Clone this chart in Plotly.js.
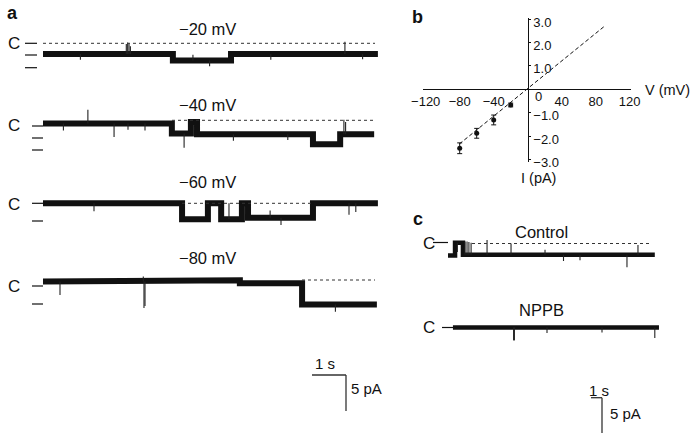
<!DOCTYPE html>
<html><head><meta charset="utf-8">
<script src="https://cdn.plot.ly/plotly-3.0.1.min.js"></script>
<style>html,body{margin:0;padding:0;background:#fff}#chart{width:695px;height:439px}</style>
</head><body><div id="chart"></div>
<script>
// ---------- Panel a: single-channel traces (time s, current pA rel. to closed level) ----------
const voltagesA = ["−20 mV", "−40 mV", "−60 mV", "−80 mV"];

const tA20 = [0, 3.82, 3.82, 5.53, 5.53, 9.85];
const iA20 = [-1.5, -1.5, -2.4, -2.4, -1.5, -1.5];
const spkTA20 = [2.45, 2.49, 2.53, 2.57, 4.41, 4.9, 1.1, 6.7, 8.88, 9.4];
const spkBaseA20 = [-1.5, -1.5, -1.5, -1.5, -2.4, -2.4, -1.5, -1.5, -1.5, -1.5];
const spkTipA20 = [-0.1, 0.1, 0.0, -0.4, -1.6, -3.2, -2.3, -2.3, 0.2, -2.2];

const tA40 = [0, 3.79, 3.79, 4.35, 4.35, 4.53, 4.53, 7.94, 7.94, 8.74, 8.74, 9.74];
const iA40 = [-0.4, -0.4, -1.8, -1.8, -0.2, -0.2, -1.9, -1.9, -3.3, -3.3, -1.9, -1.9];
const spkTA40 = [0.6, 1.32, 2.09, 2.5, 3.0, 4.15, 5.6, 7.2, 8.85, 8.9];
const spkBaseA40 = [-0.4, -0.4, -0.4, -0.4, -0.4, -1.8, -1.9, -1.9, -1.9, -1.9];
const spkTipA40 = [-1.4, 1.5, -2.3, -1.3, -1.4, -3.8, -2.8, -2.7, 0.1, -0.2];

const tA60 = [0, 4.09, 4.09, 4.85, 4.85, 5.24, 5.24, 5.85, 5.85, 6.03, 6.03, 7.94, 7.94, 9.85];
const iA60 = [0, 0, -2.2, -2.2, 0, 0, -2.2, -2.2, 0, 0, -2.0, -2.0, 0, 0];
const spkTA60 = [1.5, 5.47, 6.68, 7.0, 9.0, 9.2];
const spkBaseA60 = [0, -2.2, -2.0, -2.0, 0, 0];
const spkTipA60 = [-1.1, 0, -1.0, -3.0, -1.6, -1.2];

const tA80 = [0, 2.99, 2.99, 5.79, 5.79, 7.62, 7.62, 9.82];
const iA80 = [-0.2, -0.2, -0.05, -0.05, -0.45, -0.45, -3.4, -3.4];
const spkTA80 = [0.5, 2.97, 3.0, 2.95, 8.6];
const spkBaseA80 = [-0.2, -0.2, -0.2, -0.2, -3.4];
const spkTipA80 = [-2.1, -3.9, -3.6, 0.5, -4.4];

// ---------- Panel b: I-V relation ----------
const ivVoltage = [-80, -60, -40, -20];
const ivCurrent = [-2.52, -1.88, -1.31, -0.67];
const ivError = [0.23, 0.21, 0.21, 0.08];
const fitVoltage = [-80.5, 89.8];
const fitCurrent = [-2.34, 2.68];
const ivXTicks = [-120, -80, -40, 40, 80, 120];
const ivXTickText = ["−120", "−80", "−40", "40", "80", "120"];
const ivYTicks = [3, 2, 1, -1, -2, -3];
const ivYTickText = ["3.0", "2.0", "1.0", "−1.0", "−2.0", "−3.0"];

// ---------- Panel c: Control vs NPPB ----------
const tCtrl = [0, 0.64, 0.64, 1.36, 1.36, 18.8];
const iCtrl = [-1.7, -1.7, 0.1, 0.1, -1.6, -1.6];
const spkTCtrl = [0.85, 1.55, 1.73, 1.9, 2.1, 3.55, 5.73, 8.82, 10.5, 12.0, 16.27, 17.27];
const spkBaseCtrl = [0.1, -1.6, -1.6, -1.6, -1.6, -1.6, -1.6, -1.6, -1.6, -1.6, -1.6, -1.6];
const spkTipCtrl = [-1.2, 0.3, 0.3, 0.2, 0.1, 0.5, 0.0, -0.9, -2.5, -2.4, -3.4, -0.2];

const tNppb = [0.45, 19.18];
const iNppb = [0, 0];
const spkTNppb = [5.97, 6.0, 6.03, 9.0, 14.0, 18.8];
const spkBaseNppb = [0, 0, 0, 0, 0, 0];
const spkTipNppb = [-1.8, -1.9, -1.8, -0.8, -0.7, -1.5];

// ---------- layout helpers ----------
const W = 695, H = 439;
const FONT = "Liberation Sans, Arial, Helvetica, sans-serif";
const INK = "#111";
const pxX = x => x / W, pxY = y => 1 - y / H;

// panel a geometry: 1 s = 34 px, 1 pA = 7.2 px
const aX0 = 43, aSec = 34, aPA = 7.2;
const aBase = [43.3, 120.5, 203.3, 280].map(p => -p / aPA);
// panel c geometry: 1 s = 11 px, 1 pA = 7 px
const cX0 = 448, cSec = 11, cPA = 7;
const cBase = [243.5, 327.5].map(p => -p / cPA);

function band(t, i, off, xa, ya, core) {
  return {x: t, y: i.map(v => v + off), xaxis: xa, yaxis: ya, mode: "lines",
    line: {color: INK, width: core}, hoverinfo: "skip", showlegend: false};
}
function spikes(ts, base, tip, off, xa, ya, w) {
  const x = [], y = [];
  ts.forEach((t, k) => { x.push(t, t, null); y.push(base[k] + off, tip[k] + off, null); });
  return {x, y, xaxis: xa, yaxis: ya, mode: "lines", line: {color: "#222", width: w || 1.1},
    hoverinfo: "skip", showlegend: false};
}

const traces = [
  band(tA20, iA20, aBase[0], "x", "y", 6), spikes(spkTA20, spkBaseA20, spkTipA20, aBase[0], "x", "y"),
  band(tA40, iA40, aBase[1], "x", "y", 6), spikes(spkTA40, spkBaseA40, spkTipA40, aBase[1], "x", "y"),
  band(tA60, iA60, aBase[2], "x", "y", 6), spikes(spkTA60, spkBaseA60, spkTipA60, aBase[2], "x", "y"),
  band(tA80, iA80, aBase[3], "x", "y", 6), spikes(spkTA80, spkBaseA80, spkTipA80, aBase[3], "x", "y"),
  {x: fitVoltage, y: fitCurrent, xaxis: "x2", yaxis: "y2", mode: "lines",
   line: {color: INK, width: 1, dash: "4px,2.5px"}, hoverinfo: "skip", showlegend: false},
  {x: ivVoltage, y: ivCurrent, xaxis: "x2", yaxis: "y2", mode: "markers",
   marker: {color: INK, size: 5},
   error_y: {type: "data", array: ivError, visible: true, color: INK, thickness: 1, width: 2.5},
   showlegend: false},
  band(tCtrl, iCtrl, cBase[0], "x3", "y3", 4.5),
  spikes(spkTCtrl, spkBaseCtrl, spkTipCtrl, cBase[0], "x3", "y3"),
  band(tNppb, iNppb, cBase[1], "x3", "y3", 4.5),
  spikes(spkTNppb, spkBaseNppb, spkTipNppb, cBase[1], "x3", "y3")
];

const shapes = [];
const lineShape = (x0, y0, x1, y1, dash, color, w) => ({type: "line", xref: "paper", yref: "paper",
  x0: pxX(x0), y0: pxY(y0), x1: pxX(x1), y1: pxY(y1), line: {color: color || INK, width: w || 1.2, dash: dash || "solid"}});
// closed-level dotted lines
shapes.push(lineShape(43, 43.3, 375, 43.3, "dot", "#333", 1));
shapes.push(lineShape(172, 120.3, 374, 120.3, "dot", "#333", 1));
shapes.push(lineShape(182, 203.3, 313, 203.3, "dot", "#333", 1));
shapes.push(lineShape(302, 280, 375, 280, "dot", "#333", 1));
shapes.push(lineShape(472, 243.5, 652, 243.5, "dot", "#333", 1));
// level dashes
[[25, 37, 43.3], [25, 37, 55], [25, 37, 67.7],
 [32, 43, 126], [32, 43, 138], [32, 43, 150],
 [32, 43, 203.3], [32, 43, 221],
 [32, 43, 286], [32, 43, 304],
 [433, 448, 242.5], [442, 453, 327.5]].forEach(d => shapes.push(lineShape(d[0], d[2], d[1], d[2], "solid", INK, 1.2)));
// scale bars
shapes.push(lineShape(312, 375, 346, 375, "solid", "#333", 1.3));
shapes.push(lineShape(346, 375, 346, 411, "solid", "#333", 1.3));
shapes.push(lineShape(591, 397.7, 602, 397.7, "solid", "#333", 1.3));
shapes.push(lineShape(602, 397.7, 602, 433, "solid", "#333", 1.3));

const ann = [];
const txt = (text, x, y, size, anchor, bold) => ann.push({text: bold ? "<b>" + text + "</b>" : text,
  xref: "paper", yref: "paper", x: pxX(x), y: pxY(y), xanchor: anchor || "center", yanchor: "middle",
  showarrow: false, font: {family: FONT, size: size, color: INK}});
txt("a", 12, 13, 18, "center", true);
txt("b", 417, 17, 18, "center", true);
txt("c", 418, 219, 18, "center", true);
const vLabelY = [29, 105, 182, 258];
voltagesA.forEach((v, k) => txt(v, 207, vLabelY[k], 16.5));
[43.3, 126, 204, 286].forEach(y => txt("C", 14, y, 17));
txt("C", 429, 243, 17);
txt("C", 429, 327, 17);
txt("Control", 541, 232, 16.5);
txt("NPPB", 541, 310, 16.5);
txt("1 s", 325, 363, 15);
txt("5 pA", 349, 388, 15, "left");
txt("1 s", 599, 390, 15);
txt("5 pA", 608, 413, 15, "left");
txt("V (mV)", 667, 90, 14.5);
txt("I (pA)", 538, 178, 14.5);
txt("0", 538, 96, 13);

const layout = {
  width: W, height: H, margin: {l: 0, r: 0, t: 0, b: 0},
  paper_bgcolor: "#fff", plot_bgcolor: "rgba(0,0,0,0)", showlegend: false,
  xaxis: {domain: [0, 400 / W], range: [-aX0 / aSec, (400 - aX0) / aSec], visible: false, fixedrange: true},
  yaxis: {domain: [0, 1], range: [-H / aPA, 0], visible: false, fixedrange: true},
  xaxis2: {domain: [423 / W, 631 / W], range: [(423 - 527.7) / 0.85, (631 - 527.7) / 0.85],
    anchor: "free", position: pxY(89.3), showline: true, linecolor: INK, linewidth: 1,
    ticks: "", tickvals: ivXTicks, ticktext: ivXTickText,
    showgrid: false, zeroline: false, tickfont: {family: FONT, size: 13, color: INK}},
  yaxis2: {domain: [pxY(162), pxY(18)], range: [(89.3 - 162) / 23.4, (89.3 - 18) / 23.4],
    anchor: "free", position: 527.7 / W, side: "right", showline: true, linecolor: INK, linewidth: 1,
    ticks: "outside", ticklen: 2, tickcolor: INK, tickvals: ivYTicks, ticktext: ivYTickText,
    ticklabelshift: 3,
    showgrid: false, zeroline: false, tickfont: {family: FONT, size: 13, color: INK}},
  xaxis3: {domain: [400 / W, 1], range: [(400 - cX0) / cSec, (W - cX0) / cSec], visible: false, fixedrange: true},
  yaxis3: {domain: [0, 1], range: [-H / cPA, 0], visible: false, fixedrange: true},
  shapes: shapes, annotations: ann
};
Plotly.newPlot("chart", traces, layout, {staticPlot: true, displayModeBar: false});
</script></body></html>
